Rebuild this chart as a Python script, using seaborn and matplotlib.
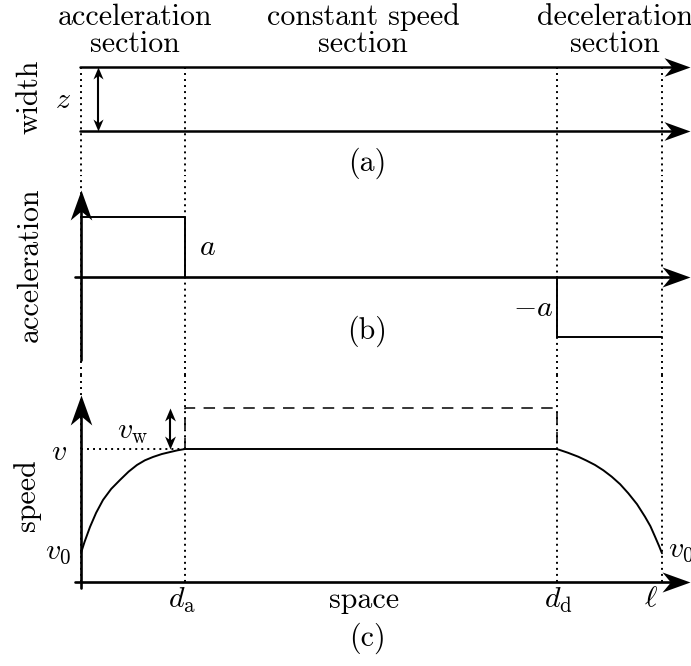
import numpy as np
import pandas as pd
import seaborn as sns
import matplotlib
matplotlib.use("Agg")
import matplotlib.pyplot as plt
from matplotlib.path import Path
from matplotlib.markers import MarkerStyle

# ---------------- data ----------------
section_titles = ["acceleration\nsection", "constant speed\nsection", "deceleration\nsection"]
panel_tags = ["(a)", "(b)", "(c)"]
panel_ylabels = ["width", "acceleration", "speed"]
space_label = "space"

d_a, d_d, ell = 1.79, 8.19, 10.0          # positions along the road
z_width = 1.0                              # road width
accel_a = 1.0                              # acceleration magnitude
v0, v_const, v_w = 0.22, 1.0, 0.31         # speeds

acc_curve_x = [0.0, 0.06, 0.155, 0.26, 0.379, 0.52, 0.671, 0.82, 0.964, 1.10, 1.239, 1.39, 1.532, 1.66, 1.79]
acc_curve_v = [0.218, 0.30, 0.414, 0.52, 0.617, 0.70, 0.767, 0.83, 0.880, 0.915, 0.940, 0.962, 0.977, 0.990, 1.0]
dec_curve_x = [8.19, 8.38, 8.559, 8.70, 8.847, 8.99, 9.134, 9.28, 9.420, 9.57, 9.707, 9.80, 9.880, 9.95, 10.0]
dec_curve_v = [1.0, 0.972, 0.942, 0.913, 0.880, 0.840, 0.792, 0.735, 0.667, 0.585, 0.491, 0.420, 0.341, 0.270, 0.216]

# ---------------- style ----------------
sns.set_theme(style="white")
plt.rcParams.update({
    "font.family": ["cmr10", "DejaVu Serif"],
    "mathtext.fontset": "cm",
    "axes.unicode_minus": False,
})
FS = 21.5
K = "black"

W, H = 691, 666
fig = plt.figure(figsize=(W / 100, H / 100), dpi=100)
fig.patch.set_facecolor("white")

X0, PXU = 81.0, 58.1                       # pixel of x=0, pixels per unit
xl = (-X0 / PXU, (W - X0) / PXU)


def px2x(p):
    return (p - X0) / PXU


def add_panel(top, bottom, zero_px, ppu):
    ax = fig.add_axes([0, 1 - bottom / H, 1, (bottom - top) / H])
    ax.set_xlim(*xl)
    ax.set_ylim((zero_px - bottom) / ppu, (zero_px - top) / ppu)
    ax.set_axis_off()
    ax.patch.set_alpha(0)
    ax._zero, ax._ppu = zero_px, ppu
    return ax


def py(ax, p):
    return (ax._zero - p) / ax._ppu


ax_a = add_panel(55, 175, 131, 64.0)
ax_b = add_panel(175, 375, 277, 60.0)
ax_c = add_panel(375, 666, 582, 133.0)


def head_marker(direction, hw=0.36, notch=0.70):
    verts = np.array([(0, 0), (-1, hw), (-notch, 0), (-1, -hw), (0, 0)])
    if direction == "up":
        verts = np.column_stack([-verts[:, 1], verts[:, 0]])
    elif direction == "down":
        verts = np.column_stack([verts[:, 1], -verts[:, 0]])
    codes = [Path.MOVETO, Path.LINETO, Path.LINETO, Path.LINETO, Path.CLOSEPOLY]
    return MarkerStyle(Path(verts, codes))


def head(ax, x, y, direction, L_px, hw=0.36):
    ax.plot([x], [y], marker=head_marker(direction, hw), ms=2 * L_px * 72 / 100,
            color=K, mew=0, ls="none", clip_on=False, zorder=6)


DOT = (0, (1, 2.1))
marks = [0.0, d_a, d_d, ell]

# dotted vertical guides
for x in marks:
    ax_a.plot([x, x], [z_width, ax_a.get_ylim()[0]], color=K, lw=1.4, ls=DOT, zorder=1)
    ax_b.plot([x, x], list(ax_b.get_ylim()), color=K, lw=1.4, ls=DOT, zorder=1)
    ax_c.plot([x, x], [ax_c.get_ylim()[1], 0], color=K, lw=1.4, ls=DOT, zorder=1)

# ---------------- panel (a) width ----------------
tip = px2x(690)
for yv in [0.0, z_width]:
    sns.lineplot(x=[px2x(80), tip - 0.2], y=[yv, yv], ax=ax_a, color=K, lw=1.8,
                 estimator=None, sort=False)
    head(ax_a, tip, yv, "right", 26)
zx = px2x(98)
ax_a.plot([zx, zx], [0.12, z_width - 0.12], color=K, lw=1.5)
head(ax_a, zx, z_width, "up", 12, 0.42)
head(ax_a, zx, 0.0, "down", 12, 0.42)

# ---------------- panel (b) acceleration ----------------
ax_b.plot([px2x(75), tip - 0.2], [0, 0], color=K, lw=1.9)
head(ax_b, tip, 0.0, "right", 28)
ax_b.plot([0, 0], [py(ax_b, 360), py(ax_b, 195)], color=K, lw=1.9)
head(ax_b, 0.0, py(ax_b, 190), "up", 30)
step_df = pd.DataFrame({"x": [0.0, d_a, d_a], "y": [accel_a, accel_a, 0.0]})
sns.lineplot(data=step_df, x="x", y="y", ax=ax_b, color=K, lw=1.4, estimator=None, sort=False)
step_df2 = pd.DataFrame({"x": [d_d, d_d, ell], "y": [0.0, -accel_a, -accel_a]})
sns.lineplot(data=step_df2, x="x", y="y", ax=ax_b, color=K, lw=1.4, estimator=None, sort=False)

# ---------------- panel (c) speed ----------------
ax_c.plot([px2x(75), tip - 0.2], [0, 0], color=K, lw=1.9)
head(ax_c, tip, 0.0, "right", 28)
ax_c.plot([0, 0], [py(ax_c, 588), py(ax_c, 400)], color=K, lw=1.9)
head(ax_c, 0.0, py(ax_c, 395), "up", 30)

speed_df = pd.DataFrame({"x": acc_curve_x + dec_curve_x, "v": acc_curve_v + dec_curve_v})
sns.lineplot(data=speed_df, x="x", y="v", ax=ax_c, color=K, lw=1.4, estimator=None, sort=False)
dash_df = pd.DataFrame({"x": [d_a, d_a, d_d, d_d],
                        "v": [v_const, v_const + v_w, v_const + v_w, v_const]})
sns.lineplot(data=dash_df, x="x", y="v", ax=ax_c, color=K, lw=1.1, estimator=None, sort=False,
             dashes=False).lines[-1].set_dashes((7.5, 5.5))
ax_c.plot([0, d_a], [v_const, v_const], color=K, lw=1.4, ls=DOT)
wx = px2x(170)
ax_c.plot([wx, wx], [v_const + 0.05, v_const + v_w - 0.05], color=K, lw=1.5)
head(ax_c, wx, v_const + v_w, "up", 13, 0.42)
head(ax_c, wx, v_const, "down", 13, 0.42)

for ax in (ax_a, ax_b, ax_c):
    ax.set_xlabel("")
    ax.set_ylabel("")
    ax.set_axis_off()


# ---------------- text ----------------
def ftxt(xp, yp, s, **kw):
    kw.setdefault("ha", "center")
    kw.setdefault("va", "center")
    kw.setdefault("fontsize", FS)
    fig.text(xp / W, 1 - yp / H, s, color=K, **kw)


for (cx, title) in zip([135, 363, 615], section_titles):
    l1, l2 = title.split("\n")
    ftxt(cx, 25, l1, va="baseline")
    ftxt(cx, 52, l2, va="baseline")

for (cy, cx, lab) in zip([97, 265, 495], [30, 30, 27], panel_ylabels):
    ftxt(cx, cy, lab, rotation=90)

for (cy, tag) in zip([163, 331, 638], panel_tags):
    ftxt(367, cy, tag)

ftxt(63, 100, r"$z$")
ftxt(207, 247, r"$a$")
ftxt(533, 308, r"$-a$")
ftxt(59, 452, r"$v$")
ftxt(58, 552, r"$v_0$")
ftxt(133, 432, r"$v_{\mathrm{w}}$")
ftxt(668, 550, r"$v_0$", ha="left")
ftxt(182, 600, r"$d_{\mathrm{a}}$")
ftxt(558, 600, r"$d_{\mathrm{d}}$")
ftxt(651, 598, r"$\ell$")
ftxt(364, 600, space_label)

fig.savefig("out.png", dpi=100, facecolor="white")
